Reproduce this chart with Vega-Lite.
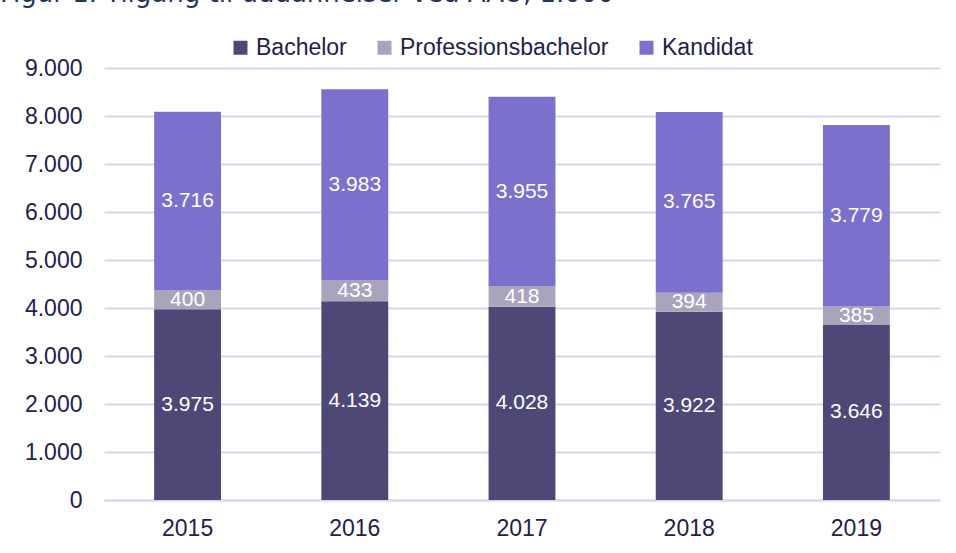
{
  "$schema": "https://vega.github.io/schema/vega-lite/v6.json",
  "width": 836,
  "height": 432,
  "autosize": {"type": "none"},
  "padding": {"left": 104, "top": 68, "right": 16, "bottom": 53},
  "background": "white",
  "config": {
    "locale": {"number": {"decimal": ",", "thousands": ".", "grouping": [3], "currency": ["", ""]}},
    "view": {"stroke": null},
    "font": "Liberation Sans"
  },
  "title": {
    "text": "Figur 1. Tilgang til uddannelser ved AAU, 1.000",
    "anchor": "start",
    "frame": "group",
    "dx": -104,
    "dy": -4,
    "baseline": "alphabetic",
    "font": "DejaVu Sans",
    "fontSize": 26,
    "fontWeight": "normal",
    "color": "#1f3566",
    "limit": 0
  },
  "data": {
    "values": [
      {"year": "2015", "type": "Bachelor", "value": 3975},
      {"year": "2015", "type": "Professionsbachelor", "value": 400},
      {"year": "2015", "type": "Kandidat", "value": 3716},
      {"year": "2016", "type": "Bachelor", "value": 4139},
      {"year": "2016", "type": "Professionsbachelor", "value": 433},
      {"year": "2016", "type": "Kandidat", "value": 3983},
      {"year": "2017", "type": "Bachelor", "value": 4028},
      {"year": "2017", "type": "Professionsbachelor", "value": 418},
      {"year": "2017", "type": "Kandidat", "value": 3955},
      {"year": "2018", "type": "Bachelor", "value": 3922},
      {"year": "2018", "type": "Professionsbachelor", "value": 394},
      {"year": "2018", "type": "Kandidat", "value": 3765},
      {"year": "2019", "type": "Bachelor", "value": 3646},
      {"year": "2019", "type": "Professionsbachelor", "value": 385},
      {"year": "2019", "type": "Kandidat", "value": 3779}
    ]
  },
  "transform": [
    {"calculate": "indexof(['Bachelor','Professionsbachelor','Kandidat'], datum.type)", "as": "ord"},
    {"stack": "value", "groupby": ["year"], "sort": [{"field": "ord", "order": "ascending"}], "as": ["y0", "y1"]},
    {"calculate": "(datum.y0 + datum.y1) / 2", "as": "mid"}
  ],
  "encoding": {
    "x": {
      "field": "year",
      "type": "nominal",
      "scale": {"paddingInner": 0.6, "paddingOuter": 0.3},
      "axis": {
        "title": null,
        "labelAngle": 0,
        "labelFontSize": 23,
        "labelColor": "#22204d",
        "labelPadding": 17,
        "ticks": false,
        "domainColor": "#d9d5f0",
        "domainWidth": 2
      }
    }
  },
  "layer": [
    {
      "mark": {"type": "bar"},
      "encoding": {
        "y": {
          "field": "y0",
          "type": "quantitative",
          "scale": {"domain": [0, 9000]},
          "axis": {
            "title": null,
            "values": [0, 1000, 2000, 3000, 4000, 5000, 6000, 7000, 8000, 9000],
            "format": ",d",
            "labelFontSize": 23,
            "labelColor": "#22204d",
            "labelPadding": 22,
            "ticks": false,
            "domain": false,
            "gridColor": "#d9d5f0",
            "gridWidth": 2
          }
        },
        "y2": {"field": "y1"},
        "color": {
          "field": "type",
          "type": "nominal",
          "scale": {
            "domain": ["Bachelor", "Professionsbachelor", "Kandidat"],
            "range": ["#4e4877", "#a9a4bc", "#7b71cc"]
          },
          "legend": {
            "title": null,
            "orient": "none",
            "legendX": 125,
            "legendY": -32,
            "direction": "horizontal",
            "symbolType": "square",
            "symbolSize": 196,
            "symbolStrokeWidth": 0,
            "labelFontSize": 23,
            "labelColor": "#22204d",
            "labelOffset": 4,
            "columnPadding": 26,
            "labelLimit": 400
          }
        }
      }
    },
    {
      "mark": {"type": "text", "color": "white", "fontSize": 21, "baseline": "middle"},
      "encoding": {
        "y": {"field": "mid", "type": "quantitative"},
        "text": {"field": "value", "type": "quantitative", "format": ",d"}
      }
    }
  ]
}
